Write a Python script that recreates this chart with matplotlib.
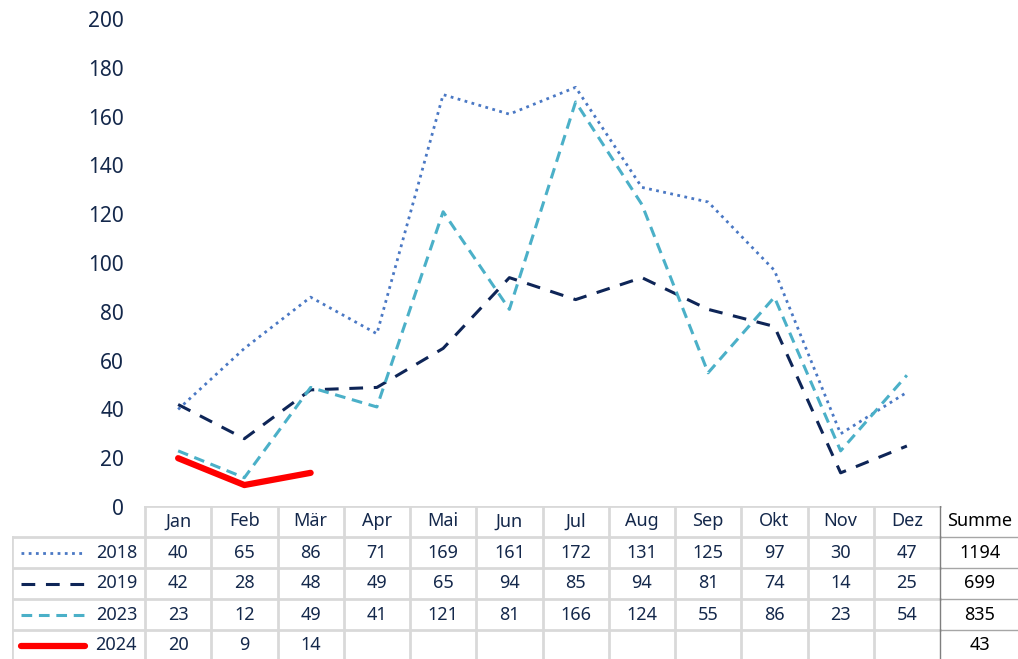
import matplotlib.pyplot as plt
from matplotlib.lines import Line2D

# Monate und Werte je Jahr
months = ['Jan', 'Feb', 'Mär', 'Apr', 'Mai', 'Jun', 'Jul', 'Aug', 'Sep', 'Okt', 'Nov', 'Dez']
years = ['2018', '2019', '2023', '2024']
values_2018 = [40, 65, 86, 71, 169, 161, 172, 131, 125, 97, 30, 47]
values_2019 = [42, 28, 48, 49, 65, 94, 85, 94, 81, 74, 14, 25]
values_2023 = [23, 12, 49, 41, 121, 81, 166, 124, 55, 86, 23, 54]
values_2024 = [20, 9, 14]
sums = [1194, 699, 835, 43]
y_ticks = [0, 20, 40, 60, 80, 100, 120, 140, 160, 180, 200]

TEXT = '#14284b'
GRID = '#d9d9d9'

styles = [
    dict(color='#4a78c4', linestyle=(0, (1, 1.6)), linewidth=2.0),
    dict(color='#0e2557', linestyle=(0, (4.5, 3.5)), linewidth=2.2),
    dict(color='#4bb0c8', linestyle=(0, (3.5, 2.2)), linewidth=2.2),
    dict(color='#ff0000', linestyle='-', linewidth=4.5, solid_capstyle='round'),
]
series = [values_2018, values_2019, values_2023, values_2024]

W, H = 1018, 659
fig = plt.figure(figsize=(W / 100, H / 100), dpi=100)
plt.rcParams['font.family'] = ['Noto Sans', 'DejaVu Sans']

# Diagrammbereich
left, right, top, bottom = 145, 940, 19, 507
ax = fig.add_axes([left / W, 1 - bottom / H, (right - left) / W, (bottom - top) / H])
for vals, st in zip(series, styles):
    ax.plot(range(len(vals)), vals, **st)
ax.set_xlim(-0.5, 11.5)
ax.set_ylim(0, 200)
ax.set_yticks(y_ticks)
ax.tick_params(axis='y', length=0, pad=15, labelsize=15, labelcolor=TEXT)
ax.set_xticks([])
for s in ax.spines.values():
    s.set_visible(False)

# Tabelle unterhalb
unit = (right - left) / 12
tx0 = -0.5 - (left - 12) / unit
tx1 = 11.5 + (W - right) / unit
row_h = 31
tax = fig.add_axes([12 / W, 0, (W - 12) / W, (H - 506) / H])
tax.set_xlim(tx0, tx1)
tax.set_ylim((H - 506) / row_h, 0)
tax.axis('off')

FS = 13

# Kopfzeile
for i, m in enumerate(months):
    tax.text(i, 0.5, m, ha='center', va='center', fontsize=FS, color=TEXT)
tax.text(12.1, 0.5, 'Summe', ha='center', va='center', fontsize=FS, color='black')

# Datenzeilen
for r, (yr, vals, st, total) in enumerate(zip(years, series, styles, sums)):
    y = r + 1.5
    tax.add_line(Line2D([tx0 + 0.13, tx0 + 1.1], [y, y], **st))
    tax.text(-0.62, y, yr, ha='right', va='center', fontsize=FS, color=TEXT)
    for i, v in enumerate(vals):
        tax.text(i, y, str(v), ha='center', va='center', fontsize=FS, color=TEXT)
    tax.text(12.1, y, str(total), ha='center', va='center', fontsize=FS, color='black')

# Gitterlinien
tax.plot([-0.5, 11.5], [0, 0], color=GRID, lw=2)
for r in range(1, 5):
    tax.plot([tx0, 11.5], [r, r], color=GRID, lw=2)
    tax.plot([11.5, tx1], [r, r], color='#a6a6a6', lw=1)
for i in range(12):
    tax.plot([i - 0.5, i - 0.5], [0, 5], color=GRID, lw=2)
tax.plot([tx0, tx0], [1, 5], color=GRID, lw=2)
tax.plot([11.5, 11.5], [0, 5], color='#7f7f7f', lw=1)

fig.savefig('out.png', dpi=100)
